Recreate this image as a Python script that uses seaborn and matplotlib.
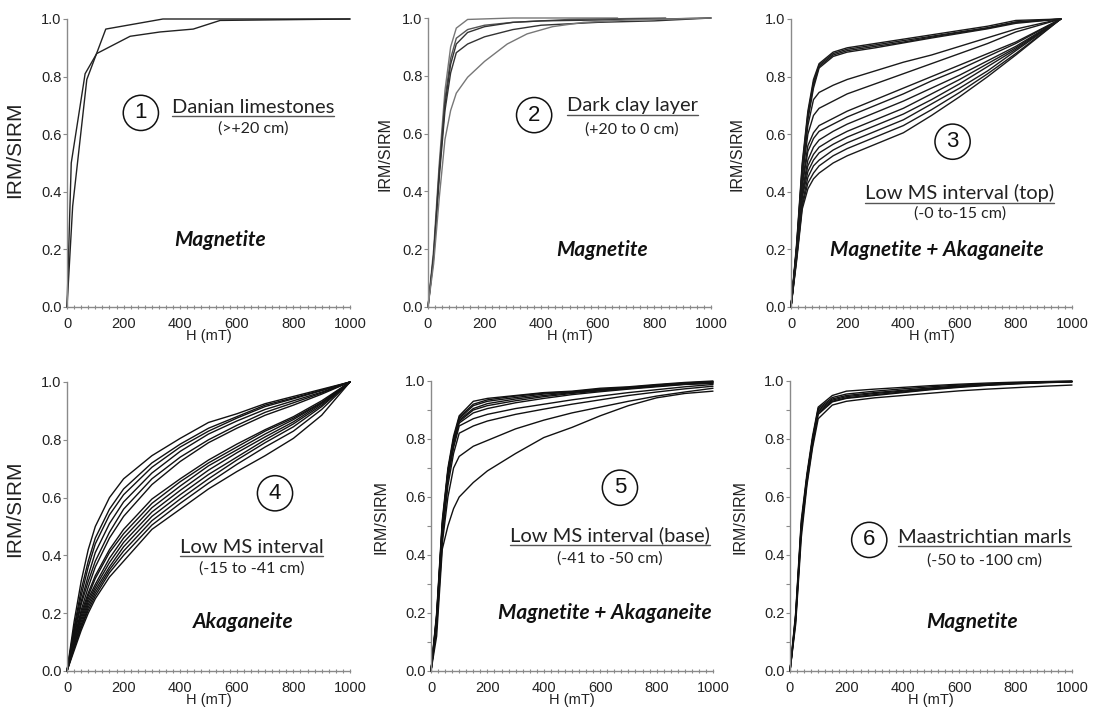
import numpy as np
import pandas as pd
import matplotlib
matplotlib.use("Agg")
import matplotlib.pyplot as plt
import seaborn as sns
from matplotlib.ticker import MultipleLocator, FormatStrFormatter
from matplotlib.lines import Line2D

sns.set_theme(style="white")
plt.rcParams['font.family'] = ['Liberation Sans', 'DejaVu Sans']

# ---------------- IRM acquisition data (normalised IRM/SIRM vs field H, mT) ----------------
# Panel 1: Danian limestones
p1_fields = [
    [0, 20, 70, 137, 339, 1000],
    [0, 15, 64, 105, 223, 329, 446, 541, 1000],
]
p1_values = [
    [0, 0.35, 0.79, 0.965, 1.0, 1.0],
    [0, 0.50, 0.81, 0.88, 0.94, 0.955, 0.965, 0.995, 1.0],
]
p1_colors = ["#222222", "#222222"]

# Panel 2: dark clay layer
p2_fields = [
    [0, 20, 40, 60, 80, 100, 140, 300, 500, 670],
    [0, 20, 40, 60, 80, 100, 140, 200, 300, 400, 500, 700, 840],
    [0, 20, 40, 60, 80, 100, 140, 200, 300, 400, 600, 800, 1000],
    [0, 20, 40, 60, 80, 100, 140, 200, 300, 400, 600, 800, 1000],
    [0, 20, 40, 60, 80, 100, 140, 200, 280, 350, 440, 550, 700, 1000],
]
p2_values = [
    [0, 0.20, 0.50, 0.75, 0.90, 0.965, 0.995, 1.0, 1.0, 1.0],
    [0, 0.18, 0.48, 0.72, 0.86, 0.93, 0.96, 0.975, 0.985, 0.99, 0.995, 0.998, 1.0],
    [0, 0.18, 0.47, 0.70, 0.84, 0.91, 0.95, 0.97, 0.985, 0.99, 0.993, 0.996, 1.0],
    [0, 0.17, 0.45, 0.68, 0.81, 0.88, 0.91, 0.935, 0.96, 0.975, 0.985, 0.99, 1.0],
    [0, 0.15, 0.38, 0.58, 0.68, 0.74, 0.795, 0.85, 0.91, 0.945, 0.97, 0.985, 0.993, 1.0],
]
p2_colors = ["#777777", "#555555", "#333333", "#333333", "#777777"]

# Panel 3: low MS interval (top)
p3_field = [0, 20, 40, 60, 80, 100, 150, 200, 300, 400, 500, 600, 700, 800, 960]
p3_values = [
    [0, 0.22, 0.50, 0.68, 0.79, 0.845, 0.885, 0.90, 0.915, 0.93, 0.945, 0.96, 0.975, 0.995, 1.0],
    [0, 0.21, 0.49, 0.67, 0.78, 0.84, 0.88, 0.895, 0.91, 0.925, 0.94, 0.955, 0.97, 0.99, 1.0],
    [0, 0.21, 0.48, 0.66, 0.77, 0.835, 0.875, 0.89, 0.905, 0.92, 0.937, 0.953, 0.968, 0.988, 1.0],
    [0, 0.20, 0.47, 0.65, 0.76, 0.83, 0.87, 0.885, 0.90, 0.917, 0.934, 0.95, 0.966, 0.985, 1.0],
    [0, 0.20, 0.46, 0.63, 0.72, 0.745, 0.77, 0.79, 0.82, 0.85, 0.875, 0.905, 0.935, 0.965, 1.0],
    [0, 0.20, 0.45, 0.60, 0.665, 0.69, 0.715, 0.74, 0.775, 0.81, 0.845, 0.88, 0.915, 0.955, 1.0],
    [0, 0.20, 0.43, 0.56, 0.605, 0.63, 0.655, 0.68, 0.72, 0.76, 0.80, 0.84, 0.88, 0.92, 1.0],
    [0, 0.20, 0.42, 0.54, 0.585, 0.61, 0.635, 0.66, 0.70, 0.74, 0.785, 0.825, 0.87, 0.915, 1.0],
    [0, 0.19, 0.40, 0.51, 0.555, 0.58, 0.61, 0.635, 0.675, 0.715, 0.76, 0.805, 0.855, 0.905, 1.0],
    [0, 0.19, 0.39, 0.49, 0.53, 0.555, 0.585, 0.61, 0.65, 0.69, 0.74, 0.79, 0.845, 0.90, 1.0],
    [0, 0.18, 0.38, 0.47, 0.51, 0.535, 0.565, 0.59, 0.63, 0.67, 0.72, 0.775, 0.835, 0.895, 1.0],
    [0, 0.17, 0.36, 0.45, 0.49, 0.51, 0.545, 0.57, 0.61, 0.65, 0.705, 0.76, 0.82, 0.89, 1.0],
    [0, 0.17, 0.35, 0.43, 0.465, 0.49, 0.525, 0.55, 0.59, 0.63, 0.685, 0.745, 0.81, 0.88, 1.0],
    [0, 0.16, 0.34, 0.41, 0.445, 0.465, 0.50, 0.525, 0.565, 0.605, 0.665, 0.73, 0.80, 0.875, 1.0],
]

# Panel 4: low MS interval
p4_field = [0, 25, 50, 75, 100, 150, 200, 300, 400, 500, 600, 700, 800, 900, 1000]
p4_values = [
    [0, 0.17, 0.31, 0.42, 0.50, 0.60, 0.665, 0.745, 0.805, 0.86, 0.89, 0.925, 0.95, 0.975, 1.0],
    [0, 0.15, 0.28, 0.38, 0.46, 0.56, 0.63, 0.72, 0.785, 0.84, 0.88, 0.92, 0.945, 0.972, 1.0],
    [0, 0.14, 0.26, 0.36, 0.44, 0.54, 0.61, 0.705, 0.775, 0.83, 0.875, 0.915, 0.942, 0.97, 1.0],
    [0, 0.13, 0.24, 0.33, 0.41, 0.51, 0.585, 0.685, 0.76, 0.82, 0.865, 0.905, 0.935, 0.965, 1.0],
    [0, 0.12, 0.23, 0.31, 0.38, 0.48, 0.56, 0.665, 0.74, 0.80, 0.85, 0.895, 0.928, 0.962, 1.0],
    [0, 0.11, 0.21, 0.29, 0.36, 0.46, 0.535, 0.645, 0.725, 0.79, 0.84, 0.885, 0.92, 0.958, 1.0],
    [0, 0.11, 0.20, 0.27, 0.33, 0.42, 0.49, 0.595, 0.665, 0.73, 0.785, 0.835, 0.88, 0.935, 1.0],
    [0, 0.10, 0.19, 0.26, 0.32, 0.41, 0.475, 0.58, 0.655, 0.72, 0.775, 0.83, 0.875, 0.93, 1.0],
    [0, 0.10, 0.18, 0.25, 0.30, 0.39, 0.46, 0.565, 0.64, 0.71, 0.765, 0.82, 0.87, 0.928, 1.0],
    [0, 0.09, 0.17, 0.24, 0.29, 0.375, 0.445, 0.55, 0.625, 0.695, 0.755, 0.81, 0.862, 0.925, 1.0],
    [0, 0.09, 0.16, 0.23, 0.28, 0.36, 0.43, 0.535, 0.61, 0.68, 0.74, 0.80, 0.855, 0.92, 1.0],
    [0, 0.08, 0.15, 0.22, 0.27, 0.35, 0.415, 0.52, 0.595, 0.665, 0.73, 0.79, 0.845, 0.915, 1.0],
    [0, 0.08, 0.15, 0.21, 0.26, 0.34, 0.40, 0.505, 0.58, 0.65, 0.715, 0.775, 0.83, 0.905, 1.0],
    [0, 0.07, 0.14, 0.20, 0.25, 0.325, 0.38, 0.49, 0.56, 0.63, 0.69, 0.745, 0.805, 0.885, 1.0],
]

# Panel 5: low MS interval (base)
p5_field = [0, 20, 40, 60, 80, 100, 150, 200, 300, 400, 500, 600, 700, 800, 900, 1000]
p5_values = [
    [0, 0.20, 0.52, 0.70, 0.81, 0.88, 0.93, 0.94, 0.95, 0.96, 0.965, 0.975, 0.98, 0.988, 0.995, 1.0],
    [0, 0.19, 0.51, 0.69, 0.80, 0.875, 0.92, 0.935, 0.948, 0.958, 0.963, 0.972, 0.978, 0.986, 0.993, 0.998],
    [0, 0.19, 0.50, 0.69, 0.80, 0.87, 0.915, 0.93, 0.943, 0.955, 0.962, 0.97, 0.977, 0.985, 0.992, 0.997],
    [0, 0.18, 0.50, 0.68, 0.79, 0.865, 0.905, 0.922, 0.938, 0.95, 0.96, 0.968, 0.975, 0.983, 0.99, 0.995],
    [0, 0.18, 0.49, 0.68, 0.79, 0.86, 0.90, 0.915, 0.932, 0.946, 0.957, 0.966, 0.974, 0.982, 0.989, 0.993],
    [0, 0.17, 0.48, 0.67, 0.78, 0.855, 0.89, 0.905, 0.925, 0.94, 0.953, 0.963, 0.972, 0.98, 0.988, 0.992],
    [0, 0.17, 0.47, 0.66, 0.77, 0.845, 0.87, 0.885, 0.905, 0.92, 0.935, 0.948, 0.96, 0.97, 0.98, 0.988],
    [0, 0.16, 0.46, 0.64, 0.75, 0.82, 0.845, 0.862, 0.885, 0.903, 0.92, 0.935, 0.95, 0.962, 0.973, 0.982],
    [0, 0.15, 0.44, 0.60, 0.70, 0.74, 0.775, 0.795, 0.835, 0.865, 0.89, 0.91, 0.93, 0.948, 0.962, 0.975],
    [0, 0.12, 0.42, 0.50, 0.56, 0.60, 0.65, 0.69, 0.75, 0.805, 0.84, 0.88, 0.915, 0.942, 0.957, 0.965],
]

# Panel 6: Maastrichtian marls
p6_field = [0, 20, 40, 60, 80, 100, 150, 200, 300, 400, 500, 600, 700, 800, 900, 1000]
p6_values = [
    [0, 0.20, 0.52, 0.68, 0.81, 0.91, 0.95, 0.965, 0.972, 0.978, 0.984, 0.989, 0.993, 0.996, 0.998, 1.0],
    [0, 0.19, 0.51, 0.67, 0.80, 0.905, 0.943, 0.955, 0.965, 0.973, 0.98, 0.986, 0.99, 0.994, 0.997, 0.999],
    [0, 0.19, 0.50, 0.67, 0.80, 0.90, 0.938, 0.95, 0.96, 0.968, 0.976, 0.983, 0.988, 0.993, 0.996, 0.998],
    [0, 0.18, 0.50, 0.66, 0.79, 0.895, 0.934, 0.946, 0.957, 0.965, 0.974, 0.981, 0.987, 0.992, 0.995, 0.998],
    [0, 0.18, 0.49, 0.66, 0.79, 0.89, 0.93, 0.942, 0.953, 0.962, 0.972, 0.98, 0.986, 0.991, 0.995, 0.997],
    [0, 0.17, 0.48, 0.65, 0.78, 0.885, 0.928, 0.94, 0.95, 0.96, 0.97, 0.978, 0.985, 0.99, 0.994, 0.997],
    [0, 0.16, 0.46, 0.64, 0.77, 0.87, 0.917, 0.93, 0.942, 0.95, 0.958, 0.966, 0.972, 0.977, 0.982, 0.986],
]

# Panel annotations
panel_numbers = ["1", "2", "3", "4", "5", "6"]
panel_titles = ["Danian limestones", "Dark clay layer", "Low MS interval (top)",
                "Low MS interval", "Low MS interval (base)", "Maastrichtian marls"]
panel_depths = ["(>+20 cm)", "(+20 to 0 cm)", "(-0 to-15 cm)",
                "(-15 to -41 cm)", "(-41 to -50 cm)", "(-50 to -100 cm)"]
panel_minerals = ["Magnetite", "Magnetite", "Magnetite + Akaganeite",
                  "Akaganeite", "Magnetite + Akaganeite", "Magnetite"]


def long_table(fields, values):
    rows = []
    for i, (h, v) in enumerate(zip(fields, values)):
        rows.append(pd.DataFrame({"H": h, "v": v, "curve": i}))
    return pd.concat(rows, ignore_index=True)


W, Hpx = 1096, 718
fig = plt.figure(figsize=(W / 100, Hpx / 100), dpi=100)
fig.patch.set_facecolor("white")

# axes boxes in pixels: left, right, top, bottom
boxes = [
    (67, 350, 19, 307), (428, 711, 18, 307), (791, 1072, 19, 307),
    (67, 350, 382, 671), (431, 713, 381, 671), (790, 1072, 381, 671),
]
axes = []
for (l, r, t, b) in boxes:
    ax = fig.add_axes([l / W, 1 - b / Hpx, (r - l) / W, (b - t) / Hpx])
    axes.append(ax)

tables = [
    long_table(p1_fields, p1_values),
    long_table(p2_fields, p2_values),
    long_table([p3_field] * len(p3_values), p3_values),
    long_table([p4_field] * len(p4_values), p4_values),
    long_table([p5_field] * len(p5_values), p5_values),
    long_table([p6_field] * len(p6_values), p6_values),
]
palettes = [
    p1_colors, p2_colors,
    ["#1a1a1a"] * len(p3_values), ["#111111"] * len(p4_values),
    ["#111111"] * len(p5_values), ["#111111"] * len(p6_values),
]

ylabel_size = [15, 11.5, 11.5, 15, 11.5, 11.5]
ylabel_x = [-0.15, -0.125, -0.165, -0.15, -0.152, -0.15]
ylabel_y = [0.545, 0.53, 0.53, 0.56, 0.53, 0.53]

# annotation positions in data coordinates (titles given at their baseline)
circle_pos = [(261, 0.674), (375, 0.664), (575, 0.574), (735, 0.615), (670, 0.632), (281, 0.452)]
title_pos = [(657, 0.674), (721, 0.678), (601, 0.374), (652, 0.409), (635, 0.448), (691, 0.442)]
depth_pos = [(657, 0.618), (721, 0.613), (601, 0.324), (652, 0.354), (635, 0.387), (691, 0.382)]
mineral_pos = [(541, 0.233), (614, 0.197), (518, 0.198), (623, 0.17), (617, 0.199), (644, 0.17)]

ann_font = ["Lato", "DejaVu Sans"]
title_texts = []

for k, ax in enumerate(axes):
    df = tables[k]
    sns.lineplot(data=df, x="H", y="v", units="curve", estimator=None, hue="curve",
                 palette=palettes[k], legend=False, sort=False, lw=1.0,
                 clip_on=False, ax=ax)
    ax.set_xlim(0, 1000)
    ax.set_ylim(0, 1.0)
    for s in ["top", "right"]:
        ax.spines[s].set_visible(False)
    for s in ["left", "bottom"]:
        ax.spines[s].set_color("#8a8a8a")
        ax.spines[s].set_linewidth(1.0)
    ax.set_facecolor("white")

    ax.xaxis.set_major_locator(MultipleLocator(200))
    ax.xaxis.set_minor_locator(MultipleLocator(25))
    ax.yaxis.set_major_locator(MultipleLocator(0.2))
    ax.yaxis.set_major_formatter(FormatStrFormatter("%.1f"))
    if k >= 4:
        ax.yaxis.set_minor_locator(MultipleLocator(0.1))
    ax.tick_params(axis="x", which="both", direction="inout", length=3, width=0.8,
                   color="#8a8a8a", labelsize=10.5, pad=6, bottom=True)
    ax.tick_params(axis="y", which="both", direction="out", length=3, width=0.8,
                   color="#8a8a8a", labelsize=10.5, pad=1, left=True)
    for lab in ax.get_xticklabels() + ax.get_yticklabels():
        lab.set_color("#222222")

    ax.set_xlabel("H (mT)", fontsize=10.5, color="#222222", labelpad=-2)
    ax.set_ylabel("IRM/SIRM", fontsize=ylabel_size[k], color="#222222")
    ax.yaxis.set_label_coords(ylabel_x[k], ylabel_y[k])

    cx, cy = circle_pos[k]
    ax.text(cx, cy, panel_numbers[k], ha="center", va="center", fontsize=16,
            family=["Liberation Sans", "DejaVu Sans"], color="#111111",
            bbox=dict(boxstyle="circle,pad=0.32", fc="white", ec="#111111", lw=1.1))
    tx, ty = title_pos[k]
    t = ax.text(tx, ty, panel_titles[k], ha="center", va="baseline", fontsize=14.5,
                family=ann_font, color="#222222")
    title_texts.append((ax, t))
    dx, dy = depth_pos[k]
    ax.text(dx, dy, panel_depths[k], ha="center", va="center", fontsize=11.5,
            family=ann_font, color="#222222")
    mx, my = mineral_pos[k]
    ax.text(mx, my, panel_minerals[k], ha="center", va="center", fontsize=15,
            family=ann_font, weight="bold", style="italic", color="#111111")

# underline each panel title, just under its baseline
fig.canvas.draw()
renderer = fig.canvas.get_renderer()
for ax, t in title_texts:
    bb = t.get_window_extent(renderer)
    base_disp = ax.transData.transform(t.get_position())[1]
    x0, x1 = bb.x0 / W, bb.x1 / W
    yline = (base_disp - 3.5) / Hpx
    fig.add_artist(Line2D([x0, x1], [yline, yline], color="#555555", lw=1.0))

fig.savefig("out.png", dpi=100, facecolor="white")
